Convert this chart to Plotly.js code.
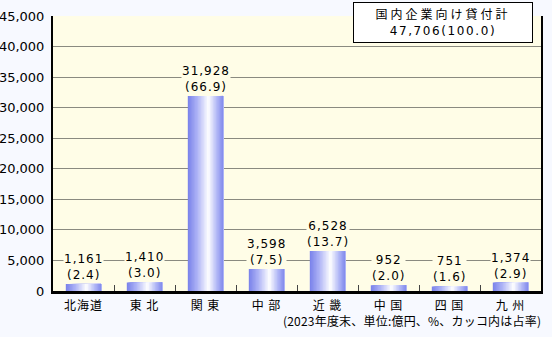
<!DOCTYPE html>
<html>
<head>
<meta charset="utf-8">
<script src="https://cdn.plot.ly/plotly-3.0.1.min.js"></script>
<style>
  html, body { margin: 0; padding: 0; background: #f7f9ff; }
  .annotation-text { letter-spacing: 1px; }
  .xtick text { letter-spacing: 1px; }
</style>
</head>
<body>
<div id="chart" style="width:552px;height:337px;"></div>
<script>
// ---- data ----
const regions = ["北海道", "東 北", "関 東", "中 部", "近 畿", "中 国", "四 国", "九 州"];
const loans = [1161, 1410, 31928, 3598, 6528, 952, 751, 1374];
const shares = [2.4, 3.0, 66.9, 7.5, 13.7, 2.0, 1.6, 2.9];
const totalLabel = "国内企業向け貸付計";
const totalValue = 47706;
const totalShare = 100.0;
const yTicks = [0, 5000, 10000, 15000, 20000, 25000, 30000, 35000, 40000, 45000];
const noteText = "(2023年度末、単位:億円、%、カッコ内は占率)";

// ---- styling helpers ----
const BAR_W = 0.58;
const N = 24;
const stops = [[0, [120, 128, 234]], [0.28, [176, 182, 246]], [0.58, [255, 255, 255]], [0.82, [178, 184, 246]], [1, [128, 136, 236]]];
function gradColor(t) {
  for (let i = 0; i < stops.length - 1; i++) {
    const [a, ca] = stops[i], [b, cb] = stops[i + 1];
    if (t >= a && t <= b) {
      const f = (t - a) / (b - a);
      const c = ca.map((v, k) => Math.round(v + (cb[k] - v) * f));
      return `rgb(${c[0]},${c[1]},${c[2]})`;
    }
  }
  return 'rgb(128,136,238)';
}
const fmt = v => v.toLocaleString('en-US');

// gradient bars: each layer starts further right and extends to the bar's right edge
const traces = [];
for (let i = 0; i < N; i++) {
  traces.push({
    type: 'bar',
    x: regions,
    y: loans,
    width: BAR_W - i * BAR_W / N,
    offset: -BAR_W / 2 + i * BAR_W / N,
    marker: { color: gradColor((i + 0.5) / N), line: { width: 0 } },
    hoverinfo: 'skip',
    showlegend: false
  });
}

const annotations = regions.map((r, i) => ({
  x: r, y: loans[i], xref: 'x', yref: 'y',
  text: fmt(loans[i]) + '<br>(' + shares[i].toFixed(1) + ')',
  showarrow: false, yanchor: 'bottom', yshift: 1,
  bgcolor: '#fffde7', borderpad: 0,
  font: { family: 'DejaVu Sans', size: 12, color: '#000' }
}));
annotations.push({
  xref: 'paper', yref: 'paper', x: 0.799, y: 1.051, xanchor: 'center', yanchor: 'top',
  text: '<span style="letter-spacing:3px">' + totalLabel + '</span><br><span style="letter-spacing:1.6px">' + fmt(totalValue) + '(' + totalShare.toFixed(1) + ')</span>',
  showarrow: false, bgcolor: '#ffffff', bordercolor: '#000', borderwidth: 1, borderpad: 4,
  width: 170, align: 'center',
  font: { family: 'DejaVu Sans, Noto Sans CJK JP', size: 12, color: '#000' }
});
annotations.push({
  xref: 'paper', yref: 'paper', x: 0.735, y: -0.109, xanchor: 'center', yanchor: 'middle',
  text: '<span style="letter-spacing:0.2px">' + noteText + '</span>', showarrow: false,
  font: { family: 'Noto Sans CJK JP', size: 12, color: '#000' }
});

const layout = {
  width: 552, height: 337,
  margin: { l: 53, r: 11, t: 16, b: 46, pad: 0 },
  paper_bgcolor: '#f7f9ff',
  plot_bgcolor: '#fffde7',
  barmode: 'overlay',
  showlegend: false,
  xaxis: {
    type: 'category',
    tickson: 'boundaries',
    ticks: 'inside', ticklen: 6, tickwidth: 1, tickcolor: '#444',
    showline: true, linecolor: '#000', linewidth: 3,
    showgrid: false,
    tickfont: { family: 'Noto Sans CJK JP', size: 12, color: '#000' },
    ticklabelstandoff: 2,
    fixedrange: true
  },
  yaxis: {
    range: [0, 45000],
    tickvals: yTicks,
    ticktext: yTicks.map(fmt),
    showgrid: true, gridcolor: '#8a8a80', gridwidth: 1,
    zeroline: false,
    showline: true, linecolor: '#000', linewidth: 2, mirror: true,
    ticks: '',
    tickfont: { family: 'DejaVu Sans', size: 13, color: '#000' },
    ticklabelstandoff: 4,
    fixedrange: true
  },
  annotations: annotations
};

Plotly.newPlot('chart', traces, layout, { staticPlot: true, displayModeBar: false });
</script>
</body>
</html>
